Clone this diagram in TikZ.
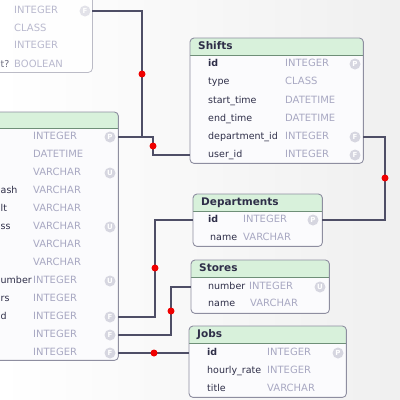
\documentclass[tikz,border=0pt]{standalone}
\usepackage{fontspec}
\setmainfont{DejaVu Sans}
\definecolor{namec}{HTML}{2E2E48}
\definecolor{typec}{HTML}{A8A8C2}
\definecolor{linec}{HTML}{4E4E66}
\definecolor{iconc}{HTML}{D6D6E0}
\definecolor{hdrc}{HTML}{D8F1DB}
\definecolor{hdrl}{HTML}{6F8F78}
\definecolor{bordc}{HTML}{8E8EA0}
\definecolor{tfill}{HTML}{FBFBFD}
\definecolor{dotc}{HTML}{F00000}
\tikzset{
  tablebox/.style={draw=none, fill=tfill, inner sep=0pt, rectangle},
  tborder/.style={draw=bordc, line width=0.9pt, rounded corners=4pt},
  hdrline/.style={draw=hdrl, line width=0.8pt},
  ttl/.style={anchor=mid west, inner sep=0pt, text=namec, font=\fontsize{10.5}{11}\selectfont\bfseries},
  nm/.style={anchor=mid west, inner sep=0pt, text=namec, font=\fontsize{9.5}{10}\selectfont},
  nmk/.style={nm, font=\fontsize{9.5}{10}\selectfont\bfseries},
  nmfrag/.style={anchor=mid west, inner sep=0pt, text=namec, font=\fontsize{9.5}{10}\selectfont},
  ty/.style={anchor=mid west, inner sep=0pt, text=typec, font=\fontsize{10}{11}\selectfont},
  icon/.style={circle, fill=iconc, inner sep=0pt, minimum size=11pt, text=white, font=\fontsize{7}{7}\selectfont\bfseries},
  conn/.style={draw=linec, line width=1.1pt},
  reddot/.style={circle, fill=dotc, inner sep=0pt, minimum size=7pt},
}
\newcommand\dbtable[6]{% name, x, y, width, height, header height
  \node[tablebox, minimum width=#4pt, minimum height=#5pt, anchor=north west] (#1) at (#2,#3) {};
  \begin{scope}
    \clip[rounded corners=4pt] (#1.north west) rectangle (#1.south east);
    \fill[hdrc] (#1.north west) rectangle ([yshift=-#6pt]#1.north east);
  \end{scope}
  \draw[hdrline] ([yshift=-#6pt]#1.north west) -- ([yshift=-#6pt]#1.north east);
  \draw[tborder] (#1.north west) rectangle (#1.south east);
}
\begin{document}
\begin{tikzpicture}[x=1pt, y=-1pt]
\useasboundingbox (0,0) rectangle (400,400);
\shade[left color=white, right color=black!6] (0,0) rectangle (400,400);
\clip (0,0) rectangle (400,400);

% ---------- top-left (faded) table ----------
\node[tablebox, minimum width=102pt, minimum height=82pt, anchor=north west, fill=white, opacity=0.8] (tl) at (-10,-10) {};
\draw[draw=bordc!60, line width=0.8pt, rounded corners=4pt] (tl.north west) rectangle (tl.south east);
\node[ty, text=typec!80] (tl1) at (14,11) {INTEGER};
\node[ty, text=typec!80] (tl2) at (14,29) {CLASS};
\node[ty, text=typec!80] (tl3) at (14,46) {INTEGER};
\node[ty, text=typec!80] (tl4) at (14,65) {BOOLEAN};
\node[nmfrag, text=namec!70] (tl4n) at (0.5,65) {t?};
\node[icon, fill=iconc!70] (tlf) at (85,11) {F};

% ---------- big left table ----------
\dbtable{big}{-10}{112}{128}{248}{16}
\foreach \y/\t [count=\i] in {137/INTEGER,155/DATETIME,173/VARCHAR,191/VARCHAR,209/VARCHAR,227/VARCHAR,245/VARCHAR,263/VARCHAR,281/INTEGER,299/INTEGER,317/INTEGER,335/INTEGER,353/INTEGER}
  \node[ty] (bt\i) at (33,\y) {\t};
\node[nmfrag] (bn4) at (0.5,191) {ash};
\node[nmfrag] (bn5) at (0.5,209) {lt};
\node[nmfrag] (bn6) at (0.5,227) {ss};
\node[nmfrag] (bn9) at (0.5,281) {umber};
\node[nmfrag] (bn10) at (0.5,299) {rs};
\node[nmfrag] (bn11) at (0.5,317) {d};
\node[icon] (bi1) at (110,137) {P};
\node[icon] (bi3) at (110,173) {U};
\node[icon] (bi6) at (110,227) {U};
\node[icon] (bi9) at (110,281) {U};
\node[icon] (bi11) at (110,317) {F};
\node[icon] (bi12) at (110,335) {F};
\node[icon] (bi13) at (110,353) {F};

% ---------- Shifts ----------
\dbtable{shifts}{190}{38}{173}{125}{17}
\node[ttl] (st) at (198,47) {Shifts};
\node[nmk] (sn1) at (208,64) {id};
\node[nm] (sn2) at (208,82) {type};
\node[nm] (sn3) at (208,101) {start\_time};
\node[nm] (sn4) at (208,119) {end\_time};
\node[nm] (sn5) at (208,137) {department\_id};
\node[nm] (sn6) at (208,155) {user\_id};
\node[ty] (sty1) at (285,64) {INTEGER};
\node[ty] (sty2) at (285,82) {CLASS};
\node[ty] (sty3) at (285,101) {DATETIME};
\node[ty] (sty4) at (285,119) {DATETIME};
\node[ty] (sty5) at (285,137) {INTEGER};
\node[ty] (sty6) at (285,155) {INTEGER};
\node[icon] (si1) at (355,64) {P};
\node[icon] (si5) at (355,137) {F};
\node[icon] (si6) at (355,155) {F};

% ---------- Departments ----------
\dbtable{dept}{193}{194}{129}{52}{17}
\node[ttl] (dt) at (201,203) {Departments};
\node[nmk] (dn1) at (208,220) {id};
\node[nm] (dn2) at (210,238) {name};
\node[ty] (dty1) at (243,220) {INTEGER};
\node[ty] (dty2) at (243,238) {VARCHAR};
\node[icon] (di1) at (313,220) {P};

% ---------- Stores ----------
\dbtable{stores}{191}{260}{138}{53}{17}
\node[ttl] (stt) at (199,269) {Stores};
\node[nm] (stn1) at (208,287) {number};
\node[nm] (stn2) at (208,304) {name};
\node[ty] (stty1) at (249,287) {INTEGER};
\node[ty] (stty2) at (250,304) {VARCHAR};
\node[icon] (sti1) at (320,287) {U};

% ---------- Jobs ----------
\dbtable{jobs}{189}{326}{157}{71}{17}
\node[ttl] (jt) at (197,335) {Jobs};
\node[nmk] (jn1) at (207,353) {id};
\node[nm] (jn2) at (207,371) {hourly\_rate};
\node[nm] (jn3) at (207,389) {title};
\node[ty] (jty1) at (267,353) {INTEGER};
\node[ty] (jty2) at (267,371) {INTEGER};
\node[ty] (jty3) at (267,389) {VARCHAR};
\node[icon] (ji1) at (338,353) {P};

% ---------- connector end points ----------
\coordinate (tlR) at (92,11);
\coordinate (c1a) at (142,11);
\coordinate (c1b) at (142,137);
\coordinate (bigR1) at (118,137);
\coordinate (c2a) at (153,137);
\coordinate (c2b) at (153,155);
\coordinate (shiftsL6) at (190,155);
\coordinate (shiftsR5) at (363,137);
\coordinate (c3a) at (385,137);
\coordinate (c3b) at (385,220);
\coordinate (deptR1) at (322,220);
\coordinate (bigR11) at (118,317);
\coordinate (c4a) at (155,317);
\coordinate (c4b) at (155,220);
\coordinate (deptL1) at (193,220);
\coordinate (bigR12) at (118,335);
\coordinate (c5a) at (171,335);
\coordinate (c5b) at (171,287);
\coordinate (storesL1) at (191,287);
\coordinate (bigR13) at (118,353);
\coordinate (jobsL1) at (189,353);

\draw[conn] (tlR) -- (c1a) -- (c1b);
\draw[conn] (bigR1) -- (c2a) -- (c2b) -- (shiftsL6);
\draw[conn] (shiftsR5) -- (c3a) -- (c3b) -- (deptR1);
\draw[conn] (bigR11) -- (c4a) -- (c4b) -- (deptL1);
\draw[conn] (bigR12) -- (c5a) -- (c5b) -- (storesL1);
\draw[conn] (bigR13) -- (jobsL1);

\node[reddot] (d1) at (142,74) {};
\node[reddot] (d2) at (153,146) {};
\node[reddot] (d3) at (385,178) {};
\node[reddot] (d4) at (155,268) {};
\node[reddot] (d5) at (171,311) {};
\node[reddot] (d6) at (154,353) {};
\end{tikzpicture}
\end{document}
